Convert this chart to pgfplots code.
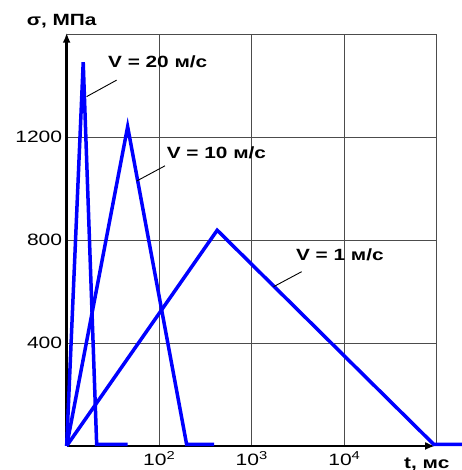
\documentclass[border=0pt]{standalone}
\usepackage{fontspec}
\setmainfont[FakeStretch=1.28]{Liberation Sans}
\usepackage{pgfplots}
\pgfplotsset{compat=1.18}
\usetikzlibrary{arrows.meta}
\newcommand\lbl{\fontsize{16.3}{18}\selectfont\bfseries}
\begin{document}
\begin{tikzpicture}
\begin{axis}[
  scale only axis, width=370.3bp, height=412bp,
  xmode=log, log basis x=10,
  xmin=10, xmax=100000, ymin=0, ymax=1600,
  xtick={100,1000,10000,100000},
  xticklabels={10\textsuperscript{2},10\textsuperscript{3},10\textsuperscript{4},{}},
  ytick={400,800,1200,1600},
  yticklabels={400,800,1200,{}},
  grid=major, major grid style={black!70, line width=0.9bp},
  axis line style={draw=none},
  major tick length=0pt, minor tick length=0pt,
  clip=false,
  ticklabel style={font=\fontsize{16.5}{18}\selectfont},
  xticklabel style={yshift=-2bp},
  yticklabel style={xshift=-1bp},
]
% axes
\draw[black, line width=2.8bp, -{Latex[length=10bp,width=8bp]}] (rel axis cs:0,0) -- (rel axis cs:0,1.003);
\draw[black, line width=2.8bp, -{Latex[length=10bp,width=8bp]}] (rel axis cs:0,0) -- (rel axis cs:0.995,0);
% data
\addplot[color={rgb,255:red,0;green,0;blue,255}, line width=3.5bp, line join=miter] coordinates {(10,0) (15.1,1490) (21.1,6) (45.6,6)};
\addplot[color={rgb,255:red,0;green,0;blue,255}, line width=3.5bp, line join=miter] coordinates {(10,0) (45.6,1240) (197.8,6) (392.6,6)};
\addplot[color={rgb,255:red,0;green,0;blue,255}, line width=3.5bp, line join=miter] coordinates {(10,0) (423,838) (92500,6) (185800,6)};
% labels and leaders
\node[anchor=west, inner sep=0pt] at (rel axis cs:0.1115,0.932) {\lbl V = 20 м/с};
\draw[black, line width=0.9bp] (rel axis cs:0.135,0.888) -- (rel axis cs:0.054,0.848);
\node[anchor=west, inner sep=0pt] at (rel axis cs:0.270,0.711) {\lbl V = 10 м/с};
\draw[black, line width=0.9bp] (rel axis cs:0.2655,0.680) -- (rel axis cs:0.189,0.643);
\node[anchor=west, inner sep=0pt] at (rel axis cs:0.619,0.4636) {\lbl V = 1 м/с};
\draw[black, line width=0.9bp] (rel axis cs:0.6346,0.423) -- (rel axis cs:0.559,0.3867);
\node[anchor=west, inner sep=0pt] at (rel axis cs:-0.108,1.032) {\lbl σ, МПа};
\node[anchor=west, inner sep=0pt] at (rel axis cs:0.911,-0.0437) {\lbl t, мс};
\coordinate (bl) at (rel axis cs:-0.180,-0.0583);
\coordinate (tr) at (rel axis cs:1.0675,1.0825);
\end{axis}
\pgfresetboundingbox
\useasboundingbox (bl) rectangle (tr);
\end{tikzpicture}
\end{document}
